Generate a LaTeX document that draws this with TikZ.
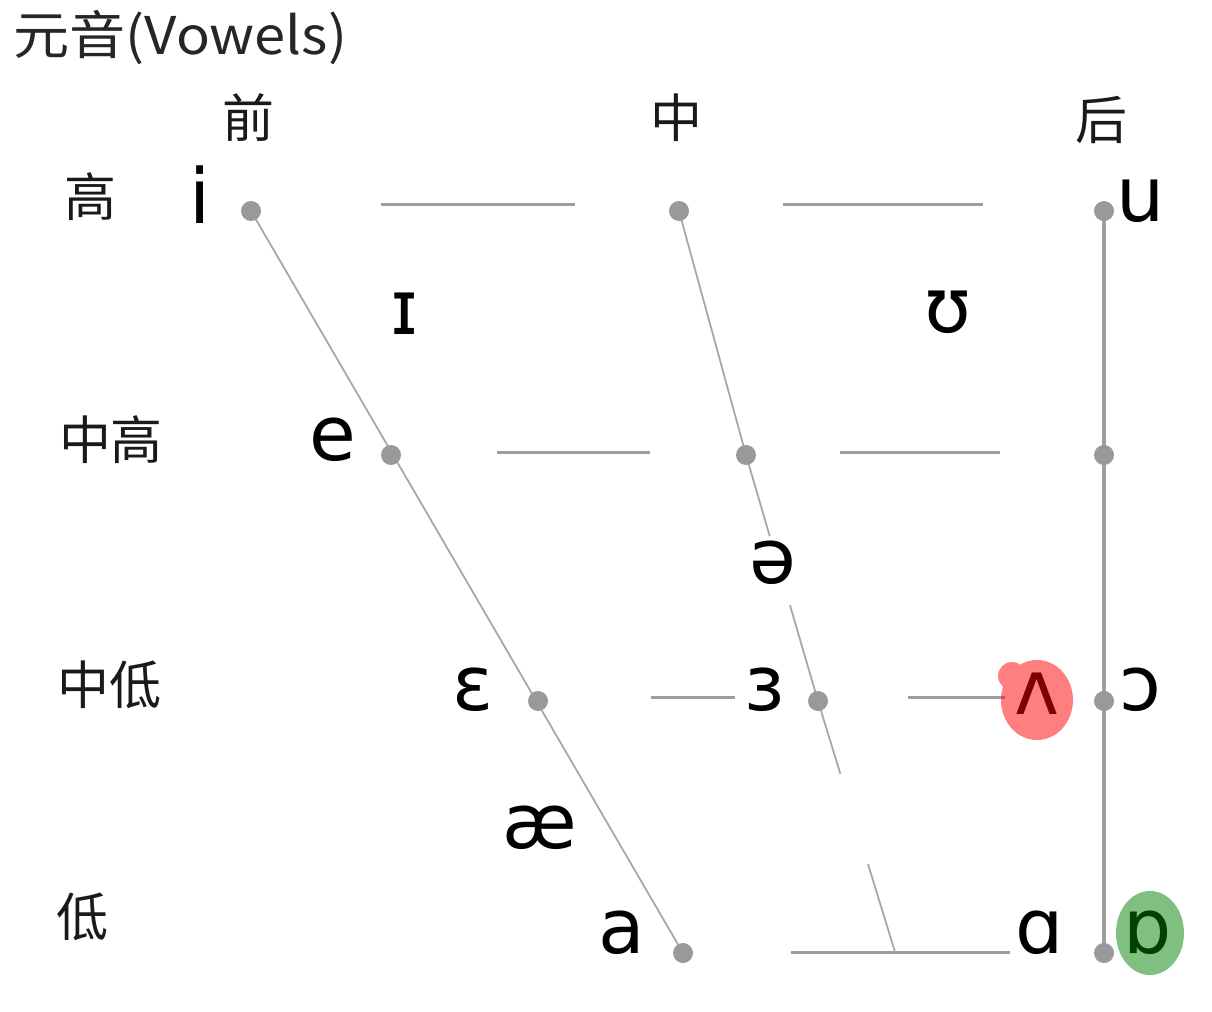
\documentclass[tikz,border=0pt]{standalone}
\usepackage{fontspec}
\newfontfamily\cjk{Noto Sans CJK SC}
\newfontfamily\cjkwide[FakeStretch=1.08]{Noto Sans CJK SC}
\newfontfamily\ipafont{DejaVu Sans}
\usetikzlibrary{calc}
\pgfdeclarelayer{background}
\pgfdeclarelayer{front}
\pgfsetlayers{background,main,front}
\definecolor{dotgray}{HTML}{999999}
\definecolor{linegray}{HTML}{9E9E9E}
\definecolor{diaggray}{HTML}{A8A8A8}
\definecolor{labcol}{HTML}{1A1A1A}
\begin{document}
\begin{tikzpicture}[x=0.5pt,y=-0.5pt,
  dot/.style={circle,fill=dotgray,inner sep=0pt,minimum size=10pt},
  hline/.style={draw=linegray,line width=1.5pt},
  vline/.style={draw=linegray,line width=1.6pt},
  dline/.style={draw=diaggray,line width=0.9pt},
  ipa/.style={font=\ipafont\fontsize{38}{38}\selectfont,inner sep=0pt,text=black},
  lab/.style={font=\cjk\fontsize{26}{26}\selectfont,inner sep=0pt,text=labcol},
  blob/.style={fill opacity=0.5}]
\useasboundingbox (0,0) rectangle (1212,1012);
% title and axis labels
\node[lab,anchor=west,font=\cjkwide\fontsize{26}{26}\selectfont,text=black!85] (title) at (13,38) {元音(Vowels)};
\node[lab] (front) at (248,118) {前};
\node[lab] (central) at (676,118) {中};
\node[lab] (back) at (1101,120) {后};
\node[lab] (high) at (90,197) {高};
\node[lab] (midhigh) at (111,440) {中高};
\node[lab] (midlow) at (109,685) {中低};
\node[lab] (low) at (82,917) {低};
% dots
\node[dot] (di) at (251,211) {};
\node[dot] (dc1) at (679,211) {};
\node[dot] (du) at (1104,211) {};
\node[dot] (de) at (391,455) {};
\node[dot] (dc2) at (746,455) {};
\node[dot] (db2) at (1104,455) {};
\node[dot] (deps) at (538,701) {};
\node[dot] (dc3) at (818,701) {};
\node[dot] (dopen) at (1104,701) {};
\node[dot] (da) at (683,953) {};
\node[dot] (dback) at (1104,953) {};
% free line ends
\coordinate (r1a) at (381,204); \coordinate (r1b) at (575,204);
\coordinate (r1c) at (783,204); \coordinate (r1d) at (983,204);
\coordinate (r2a) at (497,452); \coordinate (r2b) at (650,452);
\coordinate (r2c) at (840,452); \coordinate (r2d) at (1000,452);
\coordinate (r3a) at (651,697); \coordinate (r3b) at (735,697);
\coordinate (r3c) at (908,697); \coordinate (r3d) at (1005,697);
\coordinate (r4a) at (791,952); \coordinate (r4b) at (1010,952);
\coordinate (cb) at (895,952);
\begin{pgfonlayer}{background}
\draw[hline] (r1a) -- (r1b);
\draw[hline] (r1c) -- (r1d);
\draw[hline] (r2a) -- (r2b);
\draw[hline] (r2c) -- (r2d);
\draw[hline] (r3a) -- (r3b);
\draw[hline] (r3c) -- (r3d);
\draw[hline] (r4a) -- (r4b);
\draw[vline] (du.center) -- (dback.center);
\draw[dline] (di.center) -- (da.center);
\draw[dline] (dc1.center) -- (dc2.center);
\draw[dline] (dc2.center) -- ($(dc2)!0.33!(dc3)$);
\draw[dline] ($(dc2)!0.61!(dc3)$) -- (dc3.center);
\draw[dline] (dc3.center) -- ($(dc3)!0.29!(cb)$);
\draw[dline] ($(dc3)!0.65!(cb)$) -- (cb);
\end{pgfonlayer}
% IPA letters
\node[ipa] (ti) at (200,195) {i};
\node[ipa] (tu) at (1141,201) {u};
\node[ipa] (tsmi) at (405,314) {ɪ};
\node[ipa] (tupsilon) at (948,312) {ʊ};
\node[ipa] (te) at (333,440) {e};
\node[ipa] (tschwa) at (773,563) {ə};
\node[ipa] (teps) at (473,690) {ɛ};
\node[ipa] (trev) at (765,690) {ɜ};
\node[ipa] (twedge) at (1037,694) {ʌ};
\node[ipa] (topen) at (1140,690) {ɔ};
\node[ipa] (tae) at (540,828) {æ};
\node[ipa] (ta) at (622,933) {a};
\node[ipa] (talpha) at (1040,933) {ɑ};
\node[ipa] (tturned) at (1148,933) {ɒ};
% highlight marks
\begin{pgfonlayer}{front}
\fill[red,blob] (1037,700) ellipse (18pt and 20pt) (1012,676) circle (7pt);
\fill[green!50!black,blob] (1150,933) ellipse (17pt and 21pt);
\end{pgfonlayer}
\end{tikzpicture}
\end{document}
